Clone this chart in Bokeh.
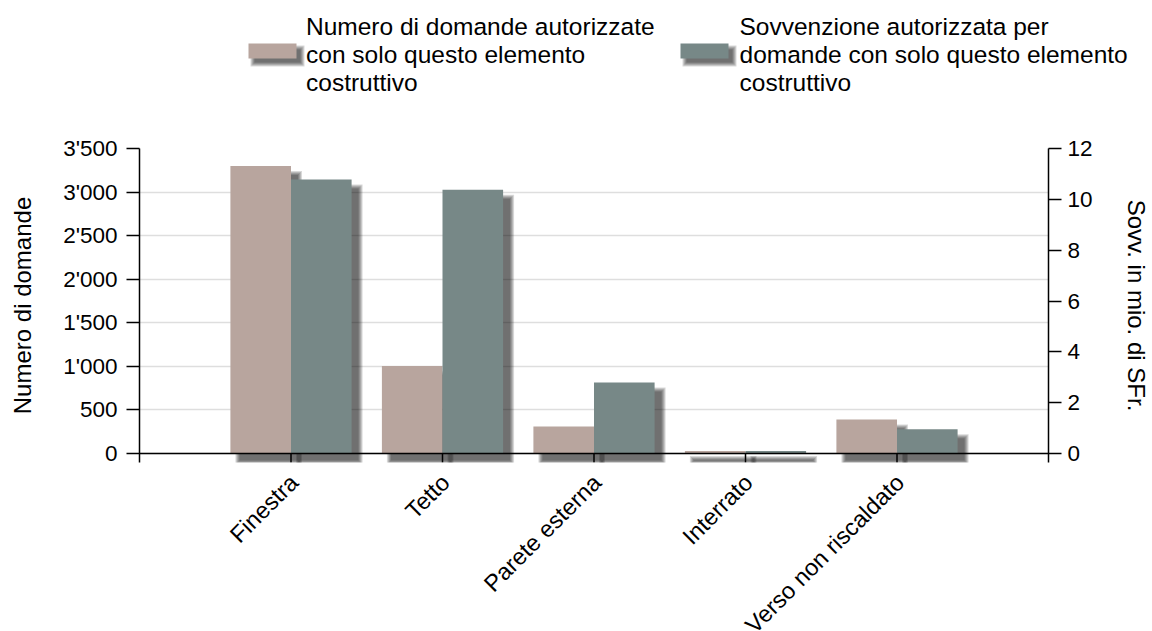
import math
from bokeh.plotting import figure
from bokeh.models import Range1d, LinearAxis, FixedTicker, Span
from bokeh.layouts import column
from bokeh.core.properties import value
from bokeh.embed import file_html
from bokeh.resources import INLINE

# ---------------- data ----------------
categories = ["Finestra", "Tetto", "Parete esterna", "Interrato", "Verso non riscaldato"]
domande = [3300, 1005, 310, 30, 390]            # Numero di domande (left axis)
sovvenzione = [10.78, 10.38, 2.79, 0.10, 0.95]  # Sovvenzione in mio. di SFr. (right axis)
series_labels = [
    "Numero di domande autorizzate\ncon solo questo elemento\ncostruttivo",
    "Sovvenzione autorizzata per\ndomande con solo questo elemento\ncostruttivo",
]
left_ticks = [0, 500, 1000, 1500, 2000, 2500, 3000, 3500]
left_tick_labels = ["0", "500", "1'000", "1'500", "2'000", "2'500", "3'000", "3'500"]
right_ticks = [0, 2, 4, 6, 8, 10, 12]
y_left_title = "Numero di domande"
y_right_title = "Sovv. in mio. di SFr."

# ---------------- style ----------------
COL_A = "#b8a59e"
COL_B = "#778887"
FONT = "Liberation Sans"
FS = "24px"
FS_TICK = "22.5px"
FS_CAT = "23.5px"
FS_LEG = "24.5px"
TXT = "#000000"

W = 1152
TOTAL_H = 631
LEG_H = 118
MAIN_H = 349
CAT_H = TOTAL_H - LEG_H - MAIN_H
BORDER_L, BORDER_R, BORDER_T, BORDER_B = 139, 104, 30, 5
FRAME_W = W - BORDER_L - BORDER_R
FRAME_H = MAIN_H - BORDER_T - BORDER_B
ZERO_PAD = 9
LEFT_MAX = 3500
RIGHT_MAX = 12
px_left = (FRAME_H - ZERO_PAD) / LEFT_MAX
left_start = -ZERO_PAD / px_left
right_start = left_start * RIGHT_MAX / LEFT_MAX

n = len(categories)
idx = list(range(n))
BAR_W = 0.4
ux = (n + 1) / FRAME_W
uy_l = LEFT_MAX / (FRAME_H - ZERO_PAD)
uy_r = RIGHT_MAX / (FRAME_H - ZERO_PAD)
SH_OFF = 8
BLUR = [-1, 0, 1, 2, 3]
SH_ALPHA = 0.15

# ---------------- main chart ----------------
p = figure(width=W, height=MAIN_H, x_range=Range1d(-1, n), y_range=Range1d(left_start, LEFT_MAX),
           output_backend="svg", toolbar_location=None, x_axis_location=None,
           min_border_left=BORDER_L, min_border_right=BORDER_R,
           min_border_top=BORDER_T, min_border_bottom=BORDER_B)
p.frame_align = False
p.extra_y_ranges = {"right": Range1d(right_start, RIGHT_MAX)}
p.outline_line_color = None
p.background_fill_color = "white"
p.border_fill_color = "white"

a_left = [i - BAR_W for i in idx]
a_right = [float(i) for i in idx]
b_left = [float(i) for i in idx]
b_right = [i + BAR_W for i in idx]

for e in BLUR:
    p.quad(left=[l + (SH_OFF - e) * ux for l in a_left],
           right=[r + (SH_OFF + e) * ux for r in a_right],
           top=[v - (SH_OFF - e) * uy_l for v in domande],
           bottom=[-(SH_OFF + e) * uy_l] * n,
           fill_color="black", fill_alpha=SH_ALPHA, line_color=None)
p.quad(left=a_left, right=a_right, top=domande, bottom=[0] * n,
       fill_color=COL_A, line_color=None)

for e in BLUR:
    p.quad(left=[l + (SH_OFF - e) * ux for l in b_left],
           right=[r + (SH_OFF + e) * ux for r in b_right],
           top=[v - (SH_OFF - e) * uy_r for v in sovvenzione],
           bottom=[-(SH_OFF + e) * uy_r] * n,
           fill_color="black", fill_alpha=SH_ALPHA, line_color=None, y_range_name="right")
p.quad(left=b_left, right=b_right, top=sovvenzione, bottom=[0] * n,
       fill_color=COL_B, line_color=None, y_range_name="right")

# category ticks (below the zero line) and the zero line itself
p.segment(x0=idx, y0=[left_start] * n, x1=idx, y1=[0] * n, line_color="black", line_width=1.5)
zero = Span(location=0, dimension="width", line_color="black", line_width=1.5)
p.add_layout(zero)

# left axis
ly = p.yaxis[0]
ly.ticker = FixedTicker(ticks=left_ticks)
ly.major_label_overrides = dict(zip(left_ticks, left_tick_labels))
ly.axis_label = y_left_title
ly.axis_label_text_font = FONT
ly.axis_label_text_font_size = FS
ly.axis_label_text_font_style = "normal"
ly.axis_label_text_color = TXT
ly.axis_label_standoff = 24
ly.major_label_text_font = FONT
ly.major_label_text_font_size = FS_TICK
ly.major_label_text_color = TXT
ly.major_label_standoff = 9
ly.major_tick_in = 0
ly.major_tick_out = 13
ly.major_tick_line_width = 1.5
ly.major_tick_line_color = "black"
ly.minor_tick_line_color = None
ly.axis_line_width = 1.5
ly.axis_line_color = "black"

# right axis
ry = LinearAxis(y_range_name="right", ticker=FixedTicker(ticks=right_ticks), axis_label=y_right_title)
ry.axis_label_text_font = FONT
ry.axis_label_text_font_size = FS
ry.axis_label_text_font_style = "normal"
ry.axis_label_text_color = TXT
ry.axis_label_standoff = 27
ry.major_label_text_font = FONT
ry.major_label_text_font_size = FS_TICK
ry.major_label_text_color = TXT
ry.major_label_standoff = 6
ry.major_tick_in = 0
ry.major_tick_out = 13
ry.major_tick_line_width = 1.5
ry.major_tick_line_color = "black"
ry.minor_tick_line_color = None
ry.axis_line_width = 1.5
ry.axis_line_color = "black"
p.add_layout(ry, "right")

p.xgrid.visible = False
p.ygrid.ticker = FixedTicker(ticks=left_ticks)
p.ygrid.grid_line_color = "#dedede"
p.ygrid.grid_line_width = 1.5

# ---------------- category labels strip (same x scale as the chart) ----------------
cf = figure(width=W, height=CAT_H,
            x_range=Range1d(-1 - BORDER_L * ux, n + BORDER_R * ux), y_range=Range1d(CAT_H, 0),
            output_backend="svg", toolbar_location=None, min_border=0,
            x_axis_type=None, y_axis_type=None)
cf.frame_align = False
cf.grid.visible = False
cf.outline_line_color = None
CAT_Y = 11
cf.text(x=idx, y=[CAT_Y] * n, text=categories, angle=math.pi / 4, x_offset=3,
        text_align="right", text_baseline="middle", text_font=value(FONT),
        text_font_size=FS_CAT, text_color=TXT)

# ---------------- legend strip (canvas-pixel coordinates) ----------------
lg = figure(width=W, height=LEG_H, x_range=Range1d(0, W), y_range=Range1d(LEG_H, 0),
            output_backend="svg", toolbar_location=None, min_border=0,
            x_axis_type=None, y_axis_type=None)
lg.frame_align = False
lg.grid.visible = False
lg.outline_line_color = None

sw_left = [248, 680]
sw_w, sw_top, sw_h = 48, 43, 15
txt_x = [305.5, 739]
sw_cols = [COL_A, COL_B]
LSH = 5
for e in BLUR:
    lg.quad(left=[x + LSH - e for x in sw_left], right=[x + sw_w + LSH + e for x in sw_left],
            top=[sw_top + LSH - e] * 2, bottom=[sw_top + sw_h + LSH + e] * 2,
            fill_color="black", fill_alpha=SH_ALPHA, line_color=None)
lg.quad(left=sw_left, right=[x + sw_w for x in sw_left], top=[sw_top] * 2,
        bottom=[sw_top + sw_h] * 2, fill_color=sw_cols, line_color=None)
lg.text(x=txt_x, y=[54, 54], text=series_labels, text_font=value(FONT), text_font_size=FS_LEG,
        text_baseline="middle", text_align="left", text_line_height=1.03, text_color=TXT)

layout = column(lg, p, cf)
open("out.html", "w").write(file_html(layout, INLINE))
